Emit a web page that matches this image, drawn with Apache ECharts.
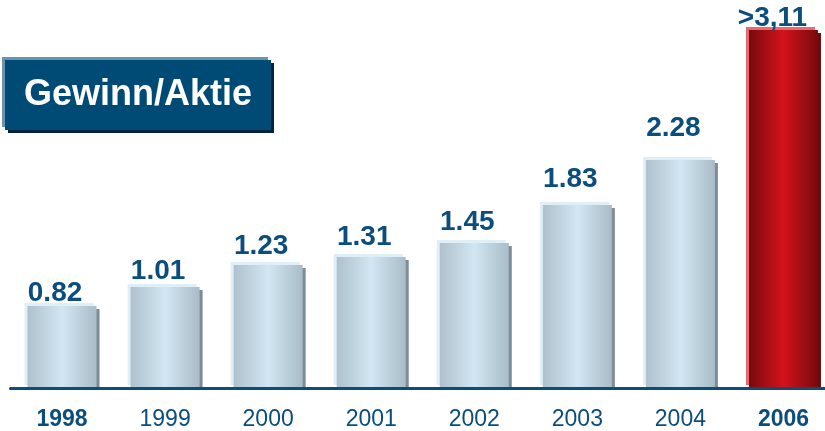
<!DOCTYPE html>
<html><head><meta charset="utf-8">
<script src="https://cdn.jsdelivr.net/npm/echarts@6/dist/echarts.min.js"></script>
<style>html,body{margin:0;padding:0;background:#fff;overflow:hidden;width:825px;height:431px}#c{width:835px;height:431px}</style>
</head><body><div id="c"></div>
<script>
const categories = ['1998','1999','2000','2001','2002','2003','2004','2006'];
const values = [0.82, 1.01, 1.23, 1.31, 1.45, 1.83, 2.28, 3.58];
const valueLabels = ['0.82','1.01','1.23','1.31','1.45','1.83','2.28','>3,11'];
const boldCategories = ['1998','2006'];
const highlightCategory = '2006';

const chart = echarts.init(document.getElementById('c'));
const blue = '#0b4d7d';
function grad(c1,c2,c3){
  return new echarts.graphic.LinearGradient(0,0,1,0,[
    {offset:0,color:c1},{offset:0.5,color:c2},{offset:1,color:c3}]);
}
chart.setOption({
  animation:false,
  grid:{left:10.5,right:0,top:28,bottom:43},
  xAxis:{type:'category',data:categories,
    axisLine:{lineStyle:{color:blue,width:3}},axisTick:{show:false},
    axisLabel:{interval:0,margin:20,fontFamily:'Liberation Sans, Arial',fontSize:23,color:blue,
      formatter:v=>boldCategories.includes(v)?'{b|'+v+'}':'{n|'+v+'}',
      rich:{b:{fontWeight:'bold',fontSize:23,color:blue,fontFamily:'Liberation Sans, Arial'},
            n:{fontWeight:'normal',fontSize:23,color:blue,fontFamily:'Liberation Sans, Arial'}}}},
  yAxis:{type:'value',min:0,max:3.6,show:false,splitLine:{show:false}},
  series:[{
    type:'custom',
    data:values.map((v,i)=>[i,v]),
    z:2,
    renderItem:function(params,api){
      const i=api.value(0), v=api.value(1);
      const top=api.coord([i,v]); const base=api.coord([i,0]);
      const w=69; const x=top[0]-w/2; const h=base[1]-top[1];
      const red=categories[i]===highlightCategory;
      const lab=red?[top[0]-11,top[1]-3]:api.coord([i,v*1.13-0.067]);
      if(!red) lab[0]-=7;
      return {type:'group',children:[
        {type:'rect',shape:{x:x-3,y:top[1]-3,width:w,height:h},style:{fill:red?'#e86a6e':'#dfeef7'}},
        {type:'rect',shape:{x:x+3,y:top[1]+3,width:w,height:h-4},style:{fill:red?'#6e0a0c':'#7d8c96'}},
        {type:'rect',shape:{x:x,y:top[1],width:w,height:h-1},
          style:{fill:red?grad('#780a0d','#d4121c','#760a0c'):grad('#aec1cd','#d2e7f3','#a9bcc8')}},
        {type:'text',style:{text:valueLabels[i],x:lab[0],y:lab[1]+5,align:'center',verticalAlign:'bottom',
          font:'bold 28px "Liberation Sans", Arial',fill:blue}}
      ]};
    }
  }],
  graphic:[
    {type:'rect',shape:{x:2,y:57,width:266,height:70},style:{fill:'#6a93ad'},z:10},
    {type:'rect',shape:{x:8,y:63,width:266,height:70},style:{fill:'#00223d'},z:10},
    {type:'rect',shape:{x:5,y:60,width:266,height:70},style:{fill:'#004b76'},z:11},
    {type:'text',style:{text:'Gewinn/Aktie',x:138,y:95,align:'center',verticalAlign:'middle',
      font:'bold 36px "Liberation Sans", Arial',fill:'#ffffff'},z:12}
  ]
});
</script></body></html>
